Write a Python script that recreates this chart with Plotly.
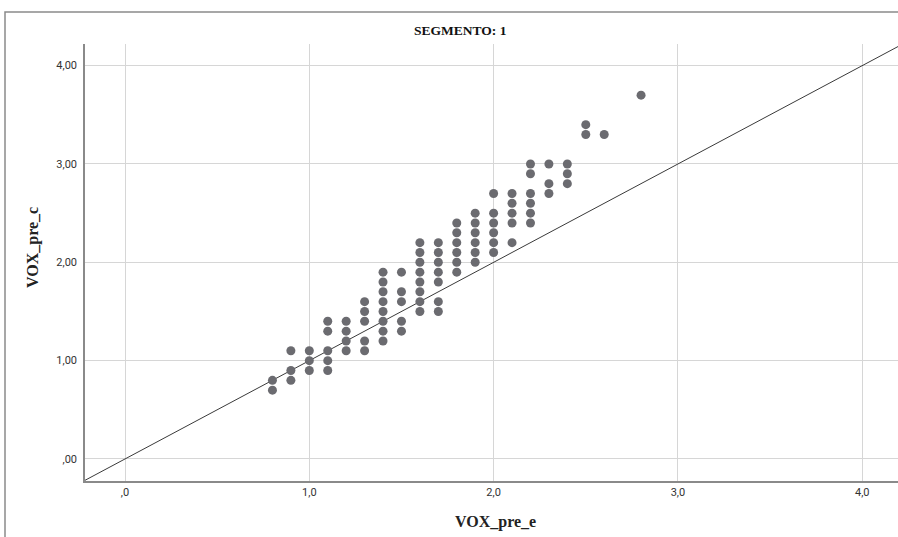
import plotly.graph_objects as go

# Data (VOX_pre_e on x, VOX_pre_c on y)
vox_pre_e = (
    [0.8] * 2 + [0.9] * 3 + [1.0] * 3 + [1.1] * 5 + [1.2] * 4 + [1.3] * 5 +
    [1.4] * 8 + [1.5] * 5 + [1.6] * 8 + [1.7] * 7 + [1.8] * 6 + [1.9] * 6 +
    [2.0] * 6 + [2.1] * 5 + [2.2] * 6 + [2.3] * 3 + [2.4] * 3 + [2.5] * 2 +
    [2.6] * 1 + [2.8] * 1
)
vox_pre_c = (
    [0.8, 0.7] +
    [1.1, 0.9, 0.8] +
    [1.1, 1.0, 0.9] +
    [1.4, 1.3, 1.1, 1.0, 0.9] +
    [1.4, 1.3, 1.2, 1.1] +
    [1.6, 1.5, 1.4, 1.2, 1.1] +
    [1.9, 1.8, 1.7, 1.6, 1.5, 1.4, 1.3, 1.2] +
    [1.9, 1.7, 1.6, 1.4, 1.3] +
    [2.2, 2.1, 2.0, 1.9, 1.8, 1.7, 1.6, 1.5] +
    [2.2, 2.1, 2.0, 1.9, 1.8, 1.6, 1.5] +
    [2.4, 2.3, 2.2, 2.1, 2.0, 1.9] +
    [2.5, 2.4, 2.3, 2.2, 2.1, 2.0] +
    [2.7, 2.5, 2.4, 2.3, 2.2, 2.1] +
    [2.7, 2.6, 2.5, 2.4, 2.2] +
    [3.0, 2.9, 2.7, 2.6, 2.5, 2.4] +
    [3.0, 2.8, 2.7] +
    [3.0, 2.9, 2.8] +
    [3.4, 3.3] +
    [3.3] +
    [3.7]
)

x_ticks = [0, 1, 2, 3, 4]
x_tick_labels = [",0", "1,0", "2,0", "3,0", "4,0"]
y_ticks = [0, 1, 2, 3, 4]
y_tick_labels = [",00", "1,00", "2,00", "3,00", "4,00"]

x_range = [-0.217, 4.194]
y_range = [-0.224, 4.22]

# Reference line y = x spanning the axes
ref_line = [-0.5, 5.0]

fig = go.Figure()
fig.add_trace(go.Scatter(
    x=ref_line, y=ref_line, mode="lines",
    line=dict(color="#3a3a3a", width=1), hoverinfo="skip", showlegend=False,
))
fig.add_trace(go.Scatter(
    x=vox_pre_e, y=vox_pre_c, mode="markers",
    marker=dict(color="#6b6b70", size=9, line=dict(width=0)),
    showlegend=False,
))

fig.update_layout(
    width=898, height=537, autosize=False,
    margin=dict(l=85, r=0, t=44, b=56),
    paper_bgcolor="white", plot_bgcolor="white",
    xaxis=dict(
        range=x_range, tickvals=x_ticks, ticktext=x_tick_labels,
        showgrid=True, gridcolor="#d6d6d6", gridwidth=1, zeroline=False,
        showline=True, linecolor="#8a8a8a", linewidth=1.5,
        ticks="", tickfont=dict(family="Roboto", size=11, color="#333333"),
    ),
    yaxis=dict(
        range=y_range, tickvals=y_ticks, ticktext=y_tick_labels,
        showgrid=True, gridcolor="#d6d6d6", gridwidth=1, zeroline=False,
        showline=True, linecolor="#8a8a8a", linewidth=1.5,
        ticks="", ticklabelstandoff=4,
        tickfont=dict(family="Roboto", size=11, color="#333333"),
    ),
    shapes=[dict(
        type="rect", xref="paper", yref="paper",
        x0=(5 - 85) / 813, x1=1.05, y0=-0.3, y1=(481 - 12) / 437,
        line=dict(color="#8a8a8a", width=1.5), fillcolor="rgba(0,0,0,0)",
        layer="below",
    )],
    annotations=[
        dict(text="<b>SEGMENTO: 1</b>", xref="paper", yref="paper",
             x=(460 - 85) / 813, y=(481 - 30) / 437, showarrow=False,
             xanchor="center", yanchor="middle",
             font=dict(family="Liberation Serif", size=13.5, color="#111111")),
        dict(text="<b>VOX_pre_e</b>", xref="paper", yref="paper",
             x=(495 - 85) / 813, y=(481 - 522) / 437, showarrow=False,
             xanchor="center", yanchor="middle",
             font=dict(family="Liberation Serif", size=16, color="#222222")),
        dict(text="<b>VOX_pre_c</b>", xref="paper", yref="paper",
             x=(33 - 85) / 813, y=(481 - 248) / 437, showarrow=False,
             xanchor="center", yanchor="middle", textangle=-90,
             font=dict(family="Liberation Serif", size=16, color="#222222")),
    ],
)

fig.write_html(
    "out.html",
    config={"displayModeBar": False},
    post_script="document.body.style.margin='0';document.body.style.overflow='hidden';",
)
